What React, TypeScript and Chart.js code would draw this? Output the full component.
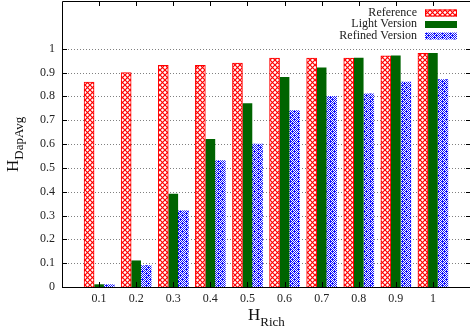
import { useEffect, useRef } from 'react';
import { Chart, registerables } from 'chart.js';

Chart.register(...registerables);

const categories = ['0.1', '0.2', '0.3', '0.4', '0.5', '0.6', '0.7', '0.8', '0.9', '1'];
const seriesNames = ['Reference', 'Light Version', 'Refined Version'];
const referenceValues = [0.86, 0.9, 0.93, 0.93, 0.94, 0.96, 0.96, 0.96, 0.97, 0.98];
const lightValues = [0.01, 0.11, 0.39, 0.62, 0.77, 0.88, 0.92, 0.96, 0.97, 0.98];
const refinedValues = [0.01, 0.09, 0.32, 0.53, 0.6, 0.74, 0.8, 0.81, 0.86, 0.87];
const yTicks = [0, 0.1, 0.2, 0.3, 0.4, 0.5, 0.6, 0.7, 0.8, 0.9, 1];
const yMax = 1.2;
const xTitle = ['H', 'Rich'];
const yTitle = ['H', 'DapAvg'];

const SERIF = '"Liberation Serif", "DejaVu Serif", serif';

function makeRedPattern(ctx: CanvasRenderingContext2D) {
  const c = document.createElement('canvas');
  c.width = 5;
  c.height = 5;
  const g = c.getContext('2d')!;
  g.fillStyle = '#ffffff';
  g.fillRect(0, 0, 5, 5);
  g.strokeStyle = '#ff0000';
  g.lineWidth = 1.2;
  g.beginPath();
  g.moveTo(0, 0);
  g.lineTo(5, 5);
  g.moveTo(5, 0);
  g.lineTo(0, 5);
  g.stroke();
  return ctx.createPattern(c, 'repeat')!;
}

function makeBluePattern(ctx: CanvasRenderingContext2D) {
  const rows = [
    '#.#.#.#.',
    '.###.#.#',
    '#.#.#.#.',
    '.#.###.#',
    '#.#.#.#.',
    '.###.#.#',
    '#.#.#.#.',
    '.#.#.###',
  ];
  const c = document.createElement('canvas');
  c.width = 8;
  c.height = 8;
  const g = c.getContext('2d')!;
  g.fillStyle = '#ffffff';
  g.fillRect(0, 0, 8, 8);
  g.fillStyle = '#1010ff';
  rows.forEach((r, yy) => {
    for (let xx = 0; xx < r.length; xx++) if (r[xx] === '#') g.fillRect(xx, yy, 1, 1);
  });
  return ctx.createPattern(c, 'repeat')!;
}

export default function App() {
  const ref = useRef<HTMLCanvasElement | null>(null);

  useEffect(() => {
    document.body.style.margin = '0';
    const canvas = ref.current!;
    const ctx0 = canvas.getContext('2d')!;
    const redPat = makeRedPattern(ctx0);
    const bluePat = makeBluePattern(ctx0);
    const green = '#006400';

    const labels = ['', ...categories, ''];
    const pad = (arr: number[]) => [null, ...arr, null];

    const framePlugin = {
      id: 'frame',
      beforeDatasetsDraw(chart: any) {
        const { ctx, chartArea: a, scales } = chart;
        const y = scales.y;
        ctx.save();
        ctx.strokeStyle = '#808080';
        ctx.lineWidth = 1;
        ctx.setLineDash([1, 2]);
        yTicks.forEach((v) => {
          if (v <= 0) return;
          const py = Math.round(y.getPixelForValue(v)) + 0.5;
          ctx.beginPath();
          ctx.moveTo(a.left, py);
          ctx.lineTo(a.right, py);
          ctx.stroke();
        });
        ctx.restore();
      },
      afterDatasetsDraw(chart: any) {
        const { ctx, chartArea: a, scales } = chart;
        const x = scales.x;
        const y = scales.y;
        ctx.save();
        ctx.strokeStyle = '#000';
        ctx.lineWidth = 1;
        ctx.setLineDash([]);
        categories.forEach((_, i) => {
          const px = Math.round(x.getPixelForValue(i + 1)) + 0.5;
          ctx.beginPath();
          ctx.moveTo(px, a.top);
          ctx.lineTo(px, a.top + 5);
          ctx.moveTo(px, a.bottom);
          ctx.lineTo(px, a.bottom - 5);
          ctx.stroke();
        });
        yTicks.forEach((v) => {
          const py = Math.round(y.getPixelForValue(v)) + 0.5;
          ctx.beginPath();
          ctx.moveTo(a.left, py);
          ctx.lineTo(a.left + 5, py);
          ctx.moveTo(a.right, py);
          ctx.lineTo(a.right - 4, py);
          ctx.stroke();
        });
        const l = Math.round(a.left) + 0.5;
        const t = Math.round(a.top) + 0.5;
        const r = Math.round(a.right) + 1.5;
        const b = Math.round(a.bottom) + 0.5;
        ctx.beginPath();
        ctx.moveTo(r, t);
        ctx.lineTo(l, t);
        ctx.lineTo(l, b);
        ctx.lineTo(r, b);
        ctx.stroke();

        // legend
        ctx.font = '12px ' + SERIF;
        ctx.textAlign = 'right';
        ctx.textBaseline = 'middle';
        const fills = [redPat, green, bluePat];
        const strokes = ['#ff0000', null, null];
        seriesNames.forEach((name, i) => {
          const cy = 12.5 + i * 11.5;
          ctx.fillStyle = '#222';
          ctx.fillText(name, 417, cy);
          ctx.fillStyle = fills[i] as any;
          ctx.fillRect(425, cy - 3, 32, 7);
          if (strokes[i]) {
            ctx.strokeStyle = strokes[i] as string;
            ctx.strokeRect(425.5, cy - 2.5, 31, 6);
          }
        });

        // axis titles
        ctx.fillStyle = '#111';
        ctx.textAlign = 'left';
        ctx.textBaseline = 'alphabetic';
        ctx.font = '17px ' + SERIF;
        const hW = ctx.measureText(xTitle[0]).width;
        ctx.fillText(xTitle[0], 248, 320);
        ctx.font = '13px ' + SERIF;
        ctx.fillText(xTitle[1], 248 + hW, 326);

        ctx.save();
        ctx.translate(18, 172);
        ctx.rotate(-Math.PI / 2);
        ctx.font = '17px ' + SERIF;
        const hW2 = ctx.measureText(yTitle[0]).width;
        ctx.fillText(yTitle[0], 0, 0);
        ctx.font = '13px ' + SERIF;
        ctx.fillText(yTitle[1], hW2, 5);
        ctx.restore();

        ctx.restore();
      },
    };

    const chart = new Chart(canvas, {
      type: 'bar',
      data: {
        labels,
        datasets: [
          {
            label: seriesNames[0],
            data: pad(referenceValues) as any,
            backgroundColor: redPat as any,
            borderColor: '#ff0000',
            borderWidth: 1,
            barThickness: 10,
          },
          {
            label: seriesNames[1],
            data: pad(lightValues) as any,
            backgroundColor: green,
            borderWidth: 0,
            barThickness: 9,
          },
          {
            label: seriesNames[2],
            data: pad(refinedValues) as any,
            backgroundColor: bluePat as any,
            borderColor: '#3030ff',
            borderWidth: 0,
            barThickness: 10,
          },
        ],
      },
      options: {
        animation: false,
        responsive: false,
        devicePixelRatio: 1,
        layout: { padding: { top: 1, right: -2, left: 0, bottom: 0 } },
        plugins: {
          legend: { display: false },
          tooltip: { enabled: false },
          title: { display: false },
        },
        scales: {
          x: {
            type: 'category',
            offset: false,
            grid: { display: false, drawTicks: false },
            border: { display: false },
            ticks: {
              padding: 5,
              autoSkip: false,
              maxRotation: 0,
              color: '#222',
              font: { family: SERIF, size: 12 },
            },
            afterFit: (s: any) => {
              s.height = 44;
              s.paddingLeft = 0;
              s.paddingRight = 0;
            },
          },
          y: {
            min: 0,
            max: yMax,
            grid: { display: false, drawTicks: false },
            border: { display: false },
            ticks: {
              stepSize: 0.1,
              padding: 7,
              color: '#222',
              font: { family: SERIF, size: 12 },
              callback: (v: any) => {
                const n = Math.round(Number(v) * 10) / 10;
                if (n > 1.0001) return '';
                return yTicks.includes(n) ? String(n) : '';
              },
            },
            afterFit: (s: any) => {
              s.width = 62;
              s.paddingTop = 0;
              s.paddingBottom = 0;
            },
          },
        },
      },
      plugins: [framePlugin],
    });
    return () => chart.destroy();
  }, []);

  return (
    <div style={{ position: 'fixed', left: 0, top: 0, width: 470, height: 331 }}>
      <canvas ref={ref} width={470} height={331} />
    </div>
  );
}
